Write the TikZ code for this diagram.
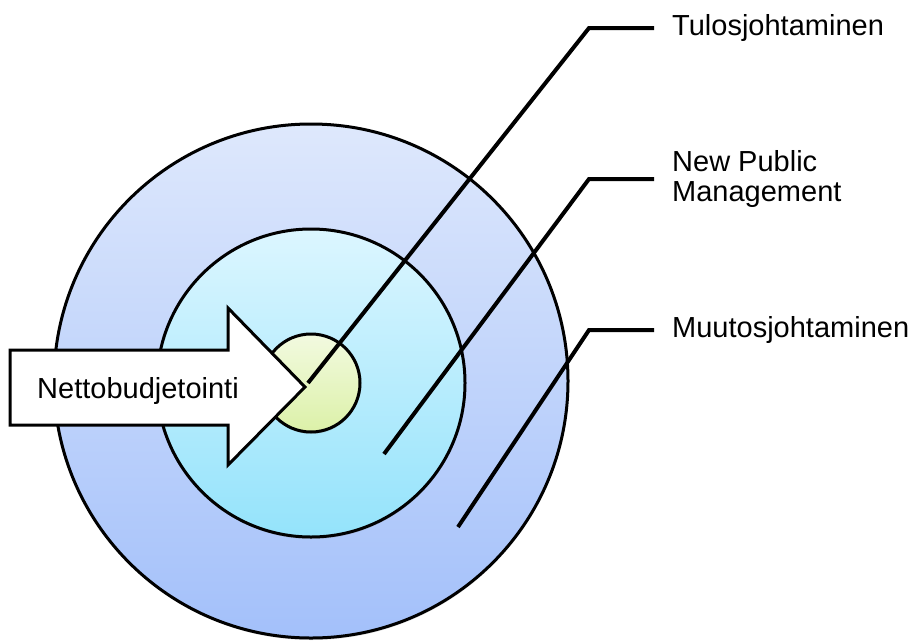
\documentclass[tikz,border=0pt]{standalone}
\usepackage{fontspec}
\setmainfont{Liberation Sans}
\usetikzlibrary{shadows}
\definecolor{outerTop}{RGB}{222,232,252}
\definecolor{outerBot}{RGB}{163,192,250}
\definecolor{midTop}{RGB}{220,246,255}
\definecolor{midBot}{RGB}{148,227,251}
\definecolor{coreTop}{RGB}{242,250,224}
\definecolor{coreBot}{RGB}{220,241,168}
\tikzset{
  ring/.style={draw=black, line width=3pt,
    drop shadow={opacity=0.25, shadow xshift=0.5pt, shadow yshift=-2pt}},
  leader/.style={draw=black, line width=4pt, line join=miter},
  lbl/.style={anchor=west, inner xsep=18pt, inner ysep=0pt, align=left,
    font=\fontsize{29}{29.5}\selectfont},
}
\begin{document}
\begin{tikzpicture}[x=1pt, y=-1pt]
  \useasboundingbox (0,0) rectangle (912,640);

  % concentric rings
  \path[ring, top color=outerTop, bottom color=outerBot] (311,381) circle (257);
  \path[ring, top color=midTop, bottom color=midBot] (311,383) circle (154);
  \path[ring, top color=coreTop, bottom color=coreBot] (311,383) circle (49);

  % block arrow pointing into the core
  \draw[line width=3pt, fill=white, line join=miter]
    (10,350) -- (228,350) -- (228,308) -- (305,387) -- (228,465)
    -- (228,425) -- (10,425) -- cycle;
  \node[anchor=base west, inner sep=0pt, font=\fontsize{29}{34}\selectfont]
    (netto) at (37,398) {Nettobudjetointi};

  % labels on the right
  \node[lbl] (tulos) at (654,28) {Tulosjohtaminen};
  \node[lbl] (npm) at (654,179) {New Public\\Management};
  \node[lbl] (muutos) at (654,330) {Muutosjohtaminen};

  % leader line anchors
  \coordinate (tulosEnd) at (308,383);
  \coordinate (tulosKnee) at (589,28);
  \coordinate (npmEnd) at (384,454);
  \coordinate (npmKnee) at (589,179);
  \coordinate (muutosEnd) at (458,527);
  \coordinate (muutosKnee) at (589,330);

  \draw[leader] (tulosEnd) -- (tulosKnee) -- (tulos.west);
  \draw[leader] (npmEnd) -- (npmKnee) -- (npm.west);
  \draw[leader] (muutosEnd) -- (muutosKnee) -- (muutos.west);
\end{tikzpicture}
\end{document}
